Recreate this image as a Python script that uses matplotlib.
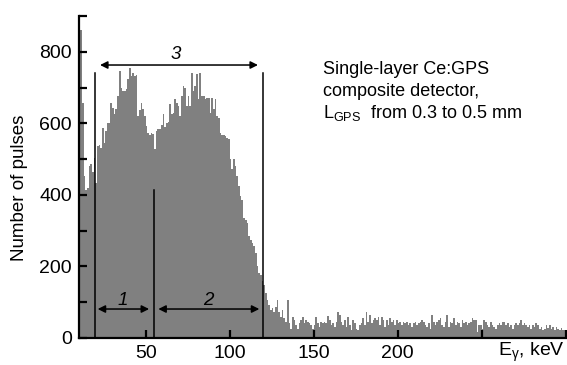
import numpy as np
import matplotlib
matplotlib.use("Agg")
import matplotlib.pyplot as plt

plt.rcParams['font.family'] = ['Liberation Sans', 'DejaVu Sans']
plt.rcParams['mathtext.fontset'] = 'custom'
plt.rcParams['mathtext.rm'] = 'Liberation Sans'
plt.rcParams['mathtext.it'] = 'Liberation Sans:italic'

# ---- data -------------------------------------------------------------
bin_start_kev = 10
bin_width_kev = 1
counts = [
    863, 860, 658, 452, 415, 420, 480, 485, 463, 503,   # 10-19
    434, 536, 540, 530, 587, 545, 578, 601, 600, 657,   # 20-29
    643, 625, 640, 676, 746, 700, 690, 690, 695, 723,   # 30-39
    755, 732, 741, 732, 735, 620, 638, 657, 640, 620,   # 40-49
    592, 573, 568, 573, 570, 527, 578, 583, 583, 595,   # 50-59
    625, 590, 601, 605, 653, 625, 630, 667, 657, 648,   # 60-69
    620, 676, 704, 700, 648, 676, 648, 741, 690, 704,   # 70-79
    738, 667, 741, 676, 676, 667, 672, 672, 629, 672,   # 80-89
    640, 667, 620, 615, 573, 568, 568, 564, 560, 555,   # 90-99
    499, 471, 499, 480, 452, 424, 396, 387, 335, 330,   # 100-109
    321, 284, 275, 265, 256, 237, 200, 181, 175, 160,   # 110-119
    148, 125, 106, 92, 78, 83, 74, 88, 106, 74,         # 120-129
    60, 78, 55, 45, 106, 41, 26, 60, 50, 36,            # 130-139
    26, 41, 50, 60, 41, 50, 45, 41, 36, 26,             # 140-149
    36, 60, 41, 31, 45, 41, 45, 41, 62, 50,             # 150-159
    36, 41, 31, 45, 74, 64, 45, 36, 50, 31,             # 160-169
    60, 36, 22, 50, 41, 26, 22, 36, 41, 55,             # 170-179
    36, 74, 45, 64, 41, 50, 55, 50, 60, 36,             # 180-189
    60, 50, 31, 50, 36, 55, 45, 50, 36, 50,             # 190-199
    41, 45, 36, 45, 41, 45, 36, 43, 31, 41,             # 200-209
    45, 36, 41, 45, 50, 45, 36, 31, 41, 26,             # 210-219
    64, 45, 36, 45, 50, 55, 36, 31, 45, 64,             # 220-229
    31, 45, 41, 55, 36, 45, 41, 31, 50, 41,             # 230-239
    45, 36, 41, 45, 55, 50, 50, 17, 36, 36,             # 240-249
    26, 50, 45, 36, 31, 45, 36, 31, 26, 36,             # 250-259
    41, 36, 45, 45, 36, 41, 31, 36, 26, 36,             # 260-269
    41, 36, 41, 50, 36, 41, 36, 31, 36, 26,             # 270-279
    36, 31, 43, 36, 26, 31, 22, 26, 36, 29,             # 280-289
    36, 26, 31, 22, 31, 26, 22, 29, 22, 22,             # 290-299
]

# window markers (keV) and their heights (pulses)
marker_kev = [20, 55, 120]
marker_top = [740, 415, 740]

# arrows: (start keV, end keV, height, label)
arrow_start = [21.4, 57.5, 22.8]
arrow_end = [52.0, 117.6, 116.8]
arrow_y = [81, 81, 763]
arrow_labels = ['1', '2', '3']
arrow_label_x = [36.5, 87, 68]
arrow_label_y = [106, 106, 793]

xticks = [50, 100, 150, 200, 250, 300]
xtick_labels = ['50', '100', '150', '200', '', '']
yticks = list(range(0, 901, 100))
ytick_labels = ['0', '', '200', '', '400', '', '600', '', '800', '']

info_lines = ['Single-layer Ce:GPS', 'composite detector,',
              r'L$_{\mathregular{GPS}}$  from 0.3 to 0.5 mm']

# ---- figure -----------------------------------------------------------
W, H = 567, 365
fig = plt.figure(figsize=(W / 100, H / 100), dpi=100)
ax = fig.add_axes([78.7 / W, 1 - 338 / H, (565.9 - 78.7) / W, (338 - 16) / H])

edges = bin_start_kev + bin_width_kev * np.arange(len(counts) + 1)
ax.stairs(counts, edges, fill=True, color='#808080', linewidth=0)

ax.set_xlim(10.1, 300.1)
ax.set_ylim(0, 900)

for s in ['top', 'right']:
    ax.spines[s].set_visible(False)
for s in ['left', 'bottom']:
    ax.spines[s].set_linewidth(1.6)
    ax.spines[s].set_zorder(5)

ax.set_xticks(xticks)
ax.set_xticklabels(xtick_labels)
ax.set_yticks(yticks)
ax.set_yticklabels(ytick_labels)
ax.tick_params(direction='in', length=6, width=1.6, labelsize=14, color='black')
ax.tick_params(axis='y', pad=5)
ax.tick_params(axis='x', pad=5)

# window lines
for xk, top in zip(marker_kev, marker_top):
    ax.plot([xk, xk], [0, top], color='black', lw=1.1, zorder=4)

# arrows
for x0, x1, yy in zip(arrow_start, arrow_end, arrow_y):
    ax.annotate('', xy=(x1, yy), xytext=(x0, yy),
                arrowprops=dict(arrowstyle='<|-|>', color='black', lw=1.1,
                                mutation_scale=11, shrinkA=0, shrinkB=0),
                zorder=6)
for lab, lx, ly in zip(arrow_labels, arrow_label_x, arrow_label_y):
    ax.text(lx, ly, lab, fontsize=13.5, style='italic', ha='center', va='center')

# info text
for i, line in enumerate(info_lines):
    fig.text(323 / W, 1 - (70 + 21.3 * i) / H, line, fontsize=13,
             ha='left', va='center')

# axis labels
fig.text(20 / W, 1 - 188 / H, 'Number of pulses', rotation=90, fontsize=13.5,
         ha='center', va='center')
fig.text(565 / W, 1 - 352 / H, r'E$_{\mathregular{\gamma}}$, keV', fontsize=14,
         ha='right', va='center')

fig.savefig('out.png', dpi=100)
